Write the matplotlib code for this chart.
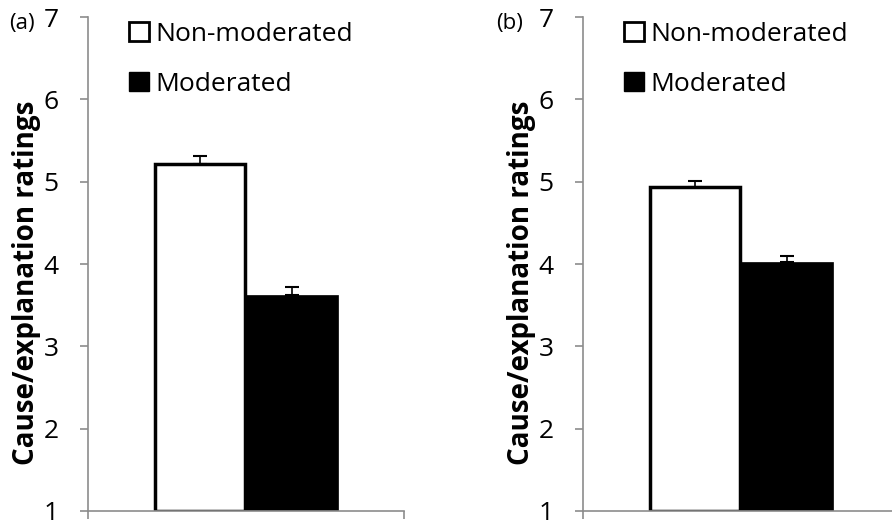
import matplotlib.pyplot as plt
from matplotlib.patches import Patch

plt.rcParams['font.family'] = ['Open Sans', 'DejaVu Sans']

groups = ['Non-moderated', 'Moderated']
panel_labels = ['(a)', '(b)']
means_a = [5.22, 3.62]
errs_a = [0.09, 0.10]
means_b = [4.94, 4.02]
errs_b = [0.07, 0.08]
yticks = [1, 2, 3, 4, 5, 6, 7]

fig = plt.figure(figsize=(8.92, 5.24), dpi=100)
W, H = 892, 524

def panel(left_px, means, errs):
    ax = fig.add_axes([left_px / W, 1 - 511 / H, 316 / W, 494 / H])
    xs = [-0.145, 0.145]
    ax.bar(xs[0], means[0] - 1, bottom=1, width=0.285, color='white',
           edgecolor='black', linewidth=2.5, zorder=2)
    ax.bar(xs[1], means[1] - 1, bottom=1, width=0.295, color='black',
           edgecolor='black', linewidth=0.5, zorder=2)
    for x, m, e in zip(xs, means, errs):
        ax.errorbar(x, m, yerr=[[0], [e]], color='black', elinewidth=1.2,
                    capsize=5, capthick=1.5, zorder=3)
    ax.set_xlim(-0.5, 0.5)
    ax.set_ylim(1, 7)
    ax.set_yticks(yticks)
    ax.set_xticks([-0.5, 0.5])
    ax.set_xticklabels(['', ''])
    for s in ['top', 'right']:
        ax.spines[s].set_visible(False)
    for s in ['left', 'bottom']:
        ax.spines[s].set_color('#8c8c8c')
        ax.spines[s].set_linewidth(1.2)
    ax.tick_params(axis='both', direction='out', length=6, width=1.2,
                   color='#8c8c8c', labelsize=19, pad=15)
    ax.set_ylabel('Cause/explanation ratings', fontsize=20,
                  fontweight='bold')
    ax.yaxis.set_label_coords(-0.15, 0.462)
    handles = [Patch(facecolor='white', edgecolor='black', linewidth=2.0),
               Patch(facecolor='black', edgecolor='black')]
    ax.legend(handles, groups, loc='upper left',
              bbox_to_anchor=(0.13, 0.99), frameon=False, fontsize=19,
              handlelength=0.75, handleheight=0.72, handletextpad=0.25,
              labelspacing=0.95, borderpad=0, borderaxespad=0)
    return ax

ax_a = panel(88, means_a, errs_a)
ax_b = panel(583, means_b, errs_b)
fig.text(9 / W, 1 - 23 / H, panel_labels[0], fontsize=16, va='center')
fig.text(496 / W, 1 - 23 / H, panel_labels[1], fontsize=16, va='center')

fig.savefig('out.png', dpi=100)
